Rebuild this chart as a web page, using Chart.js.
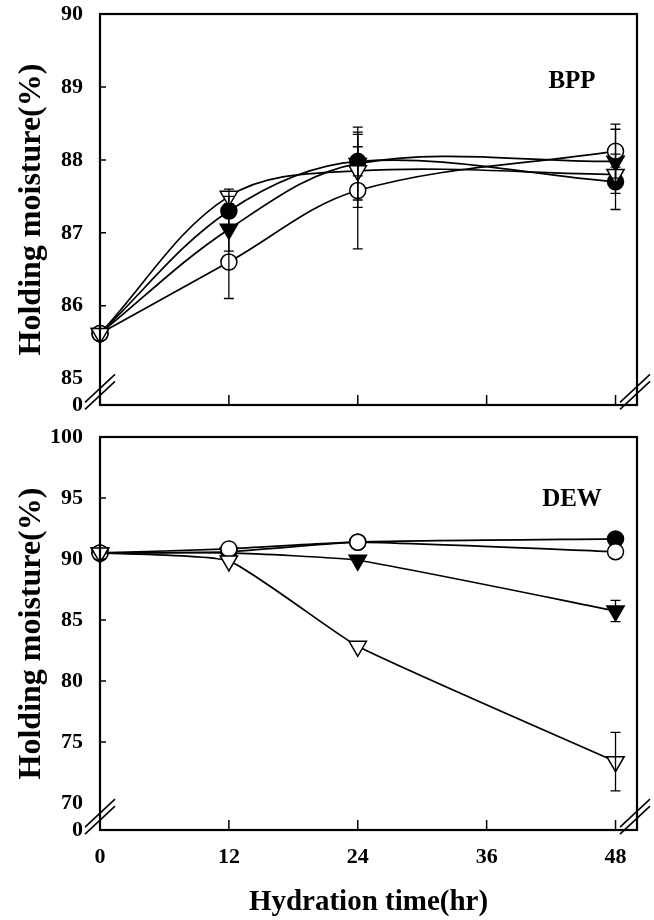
<!DOCTYPE html>
<html>
<head>
<meta charset="utf-8">
<script src="https://cdn.jsdelivr.net/npm/chart.js@4.4.1/dist/chart.umd.min.js"></script>
<style>
  html, body { margin: 0; padding: 0; background: #fff; }
  #wrap { position: relative; width: 654px; height: 920px; }
  #bppChart { position: absolute; left: 0; top: 0; }
  #dewChart { position: absolute; left: 0; top: 420px; }
</style>
</head>
<body>
<div id="wrap">
  <canvas id="bppChart" width="654" height="420" style="width:654px;height:420px"></canvas>
  <canvas id="dewChart" width="654" height="500" style="width:654px;height:500px"></canvas>
</div>
<script>
// Hydration time (hr)
const hours = [0, 12, 24, 48];
const xTicks = [0, 12, 24, 36, 48];

// BPP panel
const bppYMin = 84.64;
const bppYTicks = [bppYMin, 85, 86, 87, 88, 89, 90];
const bppFilledCircle = [85.62, 87.3, 87.98, 87.7];
const bppOpenCircle = [85.62, 86.6, 87.58, 88.12];
const bppFilledTriangle = [85.62, 87.05, 87.95, 87.98];
const bppOpenTriangle = [85.62, 87.5, 87.85, 87.8];
const bppErrFilledCircle = [0, 0.2, 0.2, 0.38];
const bppErrOpenCircle = [0, 0.5, 0.8, 0.37];
const bppErrFilledTriangle = [0, 0.3, 0.5, 0.44];
const bppErrOpenTriangle = [0, 0.1, 0.5, 0.1];

// DEW panel
const dewYMin = 67.8;
const dewYTicks = [dewYMin, 70, 75, 80, 85, 90, 95, 100];
const dewFilledCircle = [90.5, 90.6, 91.4, 91.65];
const dewOpenCircle = [90.5, 90.83, 91.38, 90.6];
const dewFilledTriangle = [90.5, 90.5, 89.9, 85.75];
const dewOpenTriangle = [90.5, 89.85, 82.85, 73.4];
const dewErrFilledCircle = [0, 0, 0, 0.1];
const dewErrOpenCircle = [0, 0, 0, 0];
const dewErrFilledTriangle = [0, 0, 0, 0.87];
const dewErrOpenTriangle = [0, 0, 0, 2.4];

const FONT = "'Liberation Serif', 'Times New Roman', serif";
const tickFont = { family: FONT, size: 22, weight: 'bold' };
const xTitleFont = { family: FONT, size: 29, weight: 'bold' };
const yTitleFont = { family: FONT, size: 32, weight: 'bold' };

Chart.defaults.animation = false;

function series(values, errors, style, filled, tension) {
  return {
    data: hours.map((h, i) => ({ x: h, y: values[i] })),
    errors: errors,
    clip: false,
    borderColor: '#000',
    borderWidth: 1.7,
    tension: tension,
    fill: false,
    pointStyle: style,
    pointRotation: style === 'triangle' ? 180 : 0,
    pointRadius: style === 'triangle' ? 10 : 8,
    pointBackgroundColor: filled ? '#000' : '#fff',
    pointBorderColor: '#000',
    pointBorderWidth: 1.5,
  };
}

// frame, inward ticks, axis breaks, error bars, panel label
const decorations = {
  id: 'decorations',
  afterDatasetsDraw(chart, args, opts) {
    const { ctx, chartArea: a, scales: { x, y } } = chart;
    ctx.save();
    ctx.strokeStyle = '#000';

    // error bars
    ctx.lineWidth = 1.3;
    chart.data.datasets.forEach(ds => {
      ds.data.forEach((p, i) => {
        const e = ds.errors[i];
        if (!e) return;
        const px = x.getPixelForValue(p.x);
        const top = y.getPixelForValue(p.y + e);
        const bot = y.getPixelForValue(p.y - e);
        ctx.beginPath();
        ctx.moveTo(px, top); ctx.lineTo(px, bot);
        ctx.moveTo(px - 5, top); ctx.lineTo(px + 5, top);
        ctx.moveTo(px - 5, bot); ctx.lineTo(px + 5, bot);
        ctx.stroke();
      });
    });

    // frame
    ctx.lineWidth = 2.2;
    ctx.strokeRect(a.left, a.top, a.right - a.left, a.bottom - a.top);

    // inward ticks
    ctx.lineWidth = 1.5;
    ctx.beginPath();
    xTicks.slice(1).forEach(v => {
      const px = x.getPixelForValue(v);
      ctx.moveTo(px, a.bottom); ctx.lineTo(px, a.bottom - 10);
    });
    opts.innerTicks.forEach(v => {
      const py = y.getPixelForValue(v);
      ctx.moveTo(a.left, py); ctx.lineTo(a.left + 6, py);
    });
    ctx.stroke();

    // axis break marks
    const by = (y.getPixelForValue(opts.breakAt) + a.bottom) / 2;
    ctx.lineWidth = 1.6;
    [a.left, a.right - 2].forEach(bx => {
      [-3.5, 3.5].forEach(d => {
        ctx.beginPath();
        ctx.moveTo(bx - 15, by + 14 + d);
        ctx.lineTo(bx + 15, by - 14 + d);
        ctx.stroke();
      });
    });

    // panel label
    ctx.fillStyle = '#000';
    ctx.font = `bold 25px ${FONT}`;
    ctx.textAlign = 'center';
    ctx.textBaseline = 'middle';
    ctx.fillText(opts.label, 572, opts.labelY);
    ctx.restore();
  }
};

function buildChart(canvasId, cfg) {
  const ctx = document.getElementById(canvasId);
  return new Chart(ctx, {
    type: 'line',
    data: {
      // first dataset is drawn on top
      datasets: [
        series(cfg.openTriangle, cfg.errOpenTriangle, 'triangle', false, cfg.tension),
        series(cfg.openCircle, cfg.errOpenCircle, 'circle', false, cfg.tension),
        series(cfg.filledTriangle, cfg.errFilledTriangle, 'triangle', true, cfg.tension),
        series(cfg.filledCircle, cfg.errFilledCircle, 'circle', true, cfg.tension),
      ],
    },
    plugins: [decorations],
    options: {
      responsive: false,
      maintainAspectRatio: false,
      layout: { padding: { top: cfg.padTop, right: 17, left: 0, bottom: 0 } },
      plugins: {
        legend: { display: false },
        tooltip: { enabled: false },
        decorations: { label: cfg.label, labelY: cfg.labelY, breakAt: cfg.yTicks[1], innerTicks: cfg.yTicks.slice(2, -1) },
      },
      scales: {
        x: {
          type: 'linear',
          min: 0,
          max: 50,
          afterBuildTicks: s => { s.ticks = xTicks.map(v => ({ value: v })); },
          afterFit: s => { s.height = cfg.xHeight; s.paddingLeft = 0; s.paddingRight = 0; },
          grid: { display: false, drawTicks: false },
          border: { display: false },
          ticks: { display: cfg.showX, padding: 14, color: '#000', font: tickFont, autoSkip: false, maxRotation: 0 },
          title: { display: cfg.showX, text: 'Hydration time(hr)', color: '#000', font: xTitleFont, padding: { top: 4, bottom: 0 } },
        },
        y: {
          type: 'linear',
          min: cfg.yTicks[0],
          max: cfg.yTicks[cfg.yTicks.length - 1],
          afterBuildTicks: s => { s.ticks = cfg.yTicks.map(v => ({ value: v })); },
          afterFit: s => { s.width = 100; s.paddingTop = 0; s.paddingBottom = 0; },
          grid: { display: false, drawTicks: false },
          border: { display: false },
          ticks: { padding: 17, color: '#000', font: tickFont, autoSkip: false, callback: (v, i) => i === 0 ? '0' : v },
          title: { display: true, text: 'Holding moisture(%)', color: '#000', font: yTitleFont, padding: { top: 13, bottom: 0 } },
        },
      },
    },
  });
}

document.addEventListener('DOMContentLoaded', () => {
  // -------------------------------
  // BPP panel (top)
  // -------------------------------
  buildChart('bppChart', {
    filledCircle: bppFilledCircle, openCircle: bppOpenCircle,
    filledTriangle: bppFilledTriangle, openTriangle: bppOpenTriangle,
    errFilledCircle: bppErrFilledCircle, errOpenCircle: bppErrOpenCircle,
    errFilledTriangle: bppErrFilledTriangle, errOpenTriangle: bppErrOpenTriangle,
    yTicks: bppYTicks, padTop: 14, xHeight: 15, showX: false, tension: 0.35,
    label: 'BPP', labelY: 82,
  });

  // -------------------------------
  // DEW panel (bottom)
  // -------------------------------
  buildChart('dewChart', {
    filledCircle: dewFilledCircle, openCircle: dewOpenCircle,
    filledTriangle: dewFilledTriangle, openTriangle: dewOpenTriangle,
    errFilledCircle: dewErrFilledCircle, errOpenCircle: dewErrOpenCircle,
    errFilledTriangle: dewErrFilledTriangle, errOpenTriangle: dewErrOpenTriangle,
    yTicks: dewYTicks, padTop: 17, xHeight: 90, showX: true, tension: 0.15,
    label: 'DEW', labelY: 80,
  });
});
</script>
</body>
</html>
